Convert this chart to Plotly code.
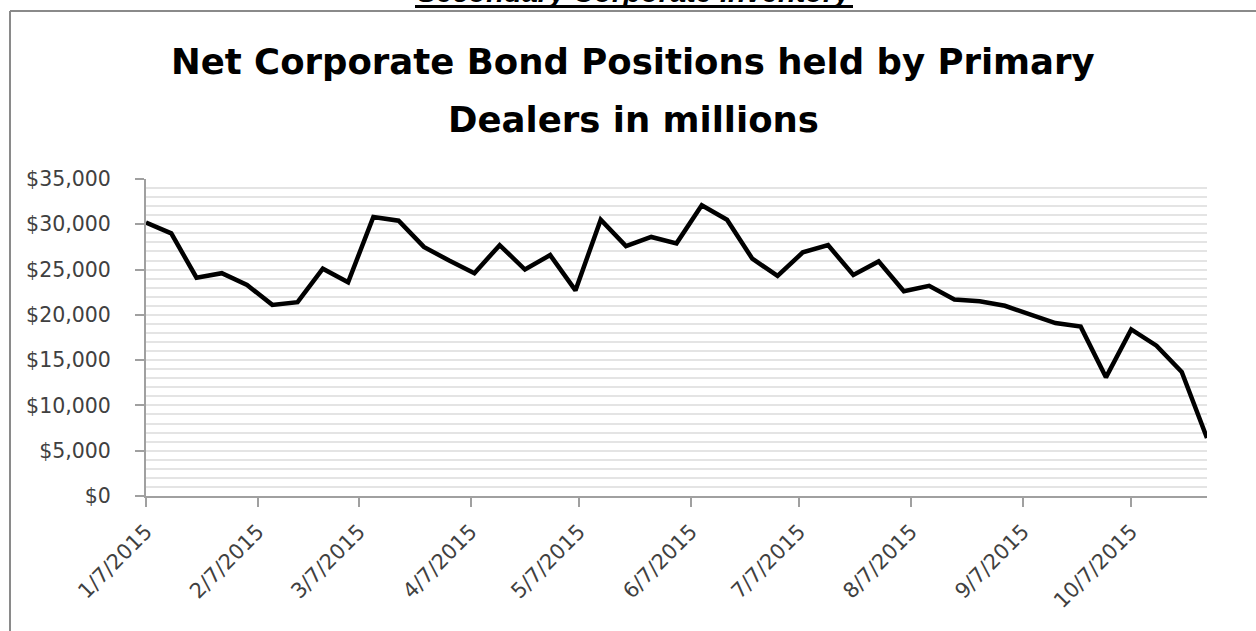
import plotly.graph_objects as go

# Weekly observation dates (Wednesdays)
dates = [
    "2015-01-07", "2015-01-14", "2015-01-21", "2015-01-28",
    "2015-02-04", "2015-02-11", "2015-02-18", "2015-02-25",
    "2015-03-04", "2015-03-11", "2015-03-18", "2015-03-25",
    "2015-04-01", "2015-04-08", "2015-04-15", "2015-04-22", "2015-04-29",
    "2015-05-06", "2015-05-13", "2015-05-20", "2015-05-27",
    "2015-06-03", "2015-06-10", "2015-06-17", "2015-06-24",
    "2015-07-01", "2015-07-08", "2015-07-15", "2015-07-22", "2015-07-29",
    "2015-08-05", "2015-08-12", "2015-08-19", "2015-08-26",
    "2015-09-02", "2015-09-09", "2015-09-16", "2015-09-23", "2015-09-30",
    "2015-10-07", "2015-10-14", "2015-10-21", "2015-10-28",
]

# Net corporate bond positions (millions of dollars)
positions = [
    30200, 29000, 24100, 24600,
    23300, 21100, 21400, 25100,
    23600, 30800, 30400, 27500,
    26000, 24600, 27700, 25000, 26600,
    22700, 30500, 27600, 28600,
    27900, 32100, 30500, 26200,
    24300, 26900, 27700, 24400, 25900,
    22600, 23200, 21700, 21500,
    21000, 20100, 19100, 18700, 13100,
    18400, 16600, 13700, 6400,
]

tick_dates = ["2015-01-07", "2015-02-07", "2015-03-07", "2015-04-07", "2015-05-07",
              "2015-06-07", "2015-07-07", "2015-08-07", "2015-09-07", "2015-10-07"]
tick_labels = ["1/7/2015", "2/7/2015", "3/7/2015", "4/7/2015", "5/7/2015",
               "6/7/2015", "7/7/2015", "8/7/2015", "9/7/2015", "10/7/2015"]

y_tickvals = [0, 5000, 10000, 15000, 20000, 25000, 30000, 35000]
y_ticklabels = ["$0", "$5,000", "$10,000", "$15,000", "$20,000", "$25,000", "$30,000", "$35,000"]

title_line1 = "Net Corporate Bond Positions held by Primary"
title_line2 = "Dealers in millions"
top_text = "Secondary Corporate Inventory"

W, H = 1256, 631
L, R, T, B = 146, 1207, 179, 496


def px(xp):
    return (xp - L) / (R - L)


def py(yp):
    return (B - yp) / (B - T)


fig = go.Figure()
fig.add_trace(go.Scatter(
    x=dates, y=positions, mode="lines",
    line=dict(color="#000000", width=4.5),
    hoverinfo="x+y", showlegend=False,
))

axis_col = "#a0a0a0"
grid_col = "#e4e4e4"

fig.update_layout(
    width=W, height=H,
    margin=dict(l=L, r=W - R, t=T, b=H - B, autoexpand=False),
    paper_bgcolor="white", plot_bgcolor="white",
    xaxis=dict(
        type="date", range=["2015-01-07", "2015-10-28"],
        tickvals=tick_dates, ticktext=tick_labels, tickangle=-45,
        tickfont=dict(family="DejaVu Sans", size=21, color="#404040"),
        ticks="outside", ticklen=9, tickwidth=1.5, tickcolor=axis_col,
        ticklabelstandoff=4,
        showline=True, linecolor=axis_col, linewidth=2,
        showgrid=False, zeroline=False, automargin=False,
    ),
    yaxis=dict(
        range=[0, 35000], tickvals=y_tickvals, ticktext=y_ticklabels,
        tickfont=dict(family="DejaVu Sans", size=20.5, color="#404040"),
        ticks="outside", ticklen=9, tickwidth=1.5, tickcolor=axis_col,
        ticklabelstandoff=20,
        showline=True, linecolor=axis_col, linewidth=2,
        showgrid=True, gridcolor=grid_col, gridwidth=2,
        minor=dict(dtick=1000, showgrid=True, gridcolor=grid_col, gridwidth=2, ticks=""),
        zeroline=False, automargin=False,
    ),
    annotations=[
        dict(text="<b>" + title_line1 + "</b>", xref="paper", yref="paper",
             x=px(633), y=py(61), xanchor="center", yanchor="middle", showarrow=False,
             font=dict(family="DejaVu Sans", size=35.5, color="#000000")),
        dict(text="<b>" + title_line2 + "</b>", xref="paper", yref="paper",
             x=px(633), y=py(119), xanchor="center", yanchor="middle", showarrow=False,
             font=dict(family="DejaVu Sans", size=35.5, color="#000000")),
        dict(text="<b><i>" + top_text + "</i></b>", xref="paper", yref="paper",
             x=px(634), y=py(10), xanchor="center", yanchor="bottom", showarrow=False,
             font=dict(family="Liberation Sans", size=29, color="#000000")),
    ],
    shapes=[
        dict(type="line", xref="paper", yref="paper",
             x0=px(415), x1=px(853), y0=py(6.5), y1=py(6.5),
             line=dict(color="#000000", width=3)),
        dict(type="line", xref="paper", yref="paper",
             x0=px(10), x1=px(1260), y0=py(11), y1=py(11),
             line=dict(color="#8a8a8a", width=2)),
        dict(type="line", xref="paper", yref="paper",
             x0=px(10), x1=px(10), y0=py(11), y1=py(640),
             line=dict(color="#8a8a8a", width=2)),
    ],
)

fig.write_html("out.html")
